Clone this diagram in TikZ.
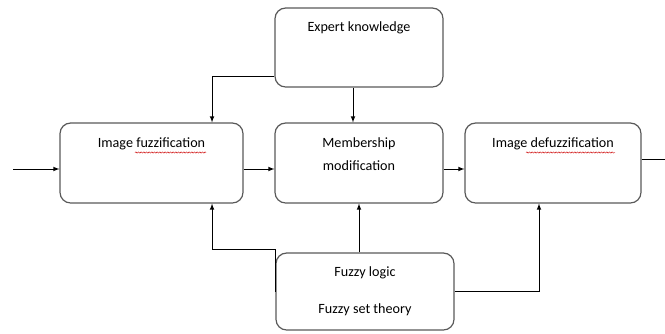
\documentclass[tikz,border=0pt]{standalone}
\usepackage{fontspec}
\setmainfont{Carlito}
\usetikzlibrary{arrows,positioning,decorations.pathmorphing}

\tikzset{
  block/.style={draw=black!65, line width=0.9pt, rounded corners=8pt, inner sep=0pt},
  lbl/.style={font=\fontsize{10.6}{12}\selectfont, inner sep=0pt},
  wire/.style={line width=0.6pt},
  spell/.style={red!80!black, line width=0.3pt, decorate,
    decoration={snake, amplitude=0.5pt, segment length=2pt}}
}

\begin{document}
\begin{tikzpicture}[x=0.75pt, y=-0.75pt]
        \useasboundingbox (0,0) rectangle (665,333);
        \node[block, minimum width=126pt, minimum height=59.25pt] (expert) at (359,47.5) {};
        \node[block, minimum width=137.25pt, minimum height=60pt] (fuzz) at (151.5,163) {};
        \node[block, minimum width=126pt, minimum height=60pt] (memb) at (359,163) {};
        \node[block, minimum width=132pt, minimum height=60pt] (defuzz) at (553,163) {};
        \node[block, minimum width=133.5pt, minimum height=57.75pt] (logic) at (365,291.5) {};
        \node[lbl] (experttxt) at (359,28) {Expert knowledge};
        \node[lbl] (fuzztxt) at (151.5,144) {Image fuzzification};
        \node[lbl] (membtxt) at (359,144) {Membership};
        \node[lbl] (modtxt) at (359,166) {modification};
        \node[lbl] (defuzztxt) at (553,144) {Image defuzzification};
        \node[lbl] (logictxt) at (365,272.5) {Fuzzy logic};
        \node[lbl] (settxt) at (365,310) {Fuzzy set theory};
        \coordinate (in) at (13,169);
        \coordinate (out) at (665,159);
        \draw[wire, -latex] (in) -- (in -| fuzz.west);
        \draw[wire, -latex] ([yshift=-4.5pt]fuzz.east) -- ([yshift=-4.5pt]memb.west);
        \draw[wire, -latex] ([yshift=-4.5pt]memb.east) -- ([yshift=-4.5pt]defuzz.west);
        \draw[wire] (defuzz.east |- out) -- (out);
        \draw[wire, -latex] ([yshift=-21.4pt]expert.west) -| ([xshift=45.4pt]fuzz.north);
        \draw[wire, -latex] ([xshift=-4.5pt]expert.south) -- ([xshift=-4.5pt]expert.south |- memb.north);
        \draw[wire, -latex] (logic.west) -- ++(0,-42.5) -| ([xshift=45.4pt]fuzz.south);
        \draw[wire, -latex] (memb.south |- logic.north) -- (memb.south);
        \draw[wire, -latex] (logic.east) -| ([xshift=-10.5pt]defuzz.south);
        % spell-check marks
        \draw[spell] (135,152.5) -- (206,152.5);
        \draw[spell] (526,152.5) -- (615,152.5);
\end{tikzpicture}
\end{document}
